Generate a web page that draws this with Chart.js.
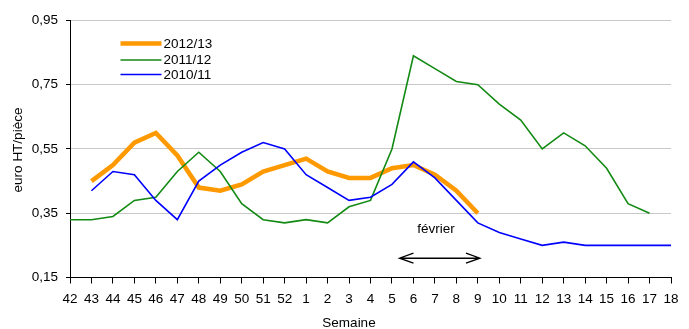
<!DOCTYPE html>
<html>
<head>
<meta charset="utf-8">
<script src="https://cdn.jsdelivr.net/npm/chart.js@4/dist/chart.umd.min.js"></script>
<style>
  html, body { margin: 0; padding: 0; background: #fff; }
  canvas { display: block; }
</style>
</head>
<body>
<canvas id="c" width="689" height="329"></canvas>
<script>
// Semaines de la campagne (octobre -> mai)
const weeks = ['42','43','44','45','46','47','48','49','50','51','52',
  '1','2','3','4','5','6','7','8','9','10','11','12','13','14','15','16','17','18'];

// Prix moyen, euro HT/pièce
const prices2012_13 = [null,0.45,0.50,0.57,0.60,0.53,0.43,0.42,0.44,0.48,0.50,
  0.52,0.48,0.46,0.46,0.49,0.50,0.47,0.42,0.35,null,null,null,null,null,null,null,null,null];
const prices2011_12 = [0.33,0.33,0.34,0.39,0.40,0.48,0.54,0.48,0.38,0.33,0.32,
  0.33,0.32,0.37,0.39,0.55,0.84,0.80,0.76,0.75,0.69,0.64,0.55,0.60,0.56,0.49,0.38,0.35,null];
const prices2010_11 = [null,0.42,0.48,0.47,0.39,0.33,0.45,0.50,0.54,0.57,0.55,
  0.47,0.43,0.39,0.40,0.44,0.51,0.46,0.39,0.32,0.29,0.27,0.25,0.26,0.25,0.25,0.25,0.25,0.25];

const yTicks = [0.15, 0.35, 0.55, 0.75, 0.95];

const FONT = '"Liberation Sans", Arial, sans-serif';
const ORANGE = '#FF9900', GREEN = '#138A13', BLUE = '#0000FF';

const series = [
  { label: '2012/13', data: prices2012_13, color: ORANGE, width: 4.5 },
  { label: '2011/12', data: prices2011_12, color: GREEN, width: 1.6 },
  { label: '2010/11', data: prices2010_11, color: BLUE, width: 1.6 }
];

// Légende, titres d'axes et flèche "février"
const decorations = {
  id: 'decorations',
  afterDraw(chart) {
    const ctx = chart.ctx;
    const xs = chart.scales.x, ys = chart.scales.y;
    ctx.save();
    ctx.fillStyle = '#000';
    ctx.font = '13.5px ' + FONT;
    ctx.textBaseline = 'middle';

    // légende
    const legendY = [43.5, 60, 74.5];
    series.forEach((s, i) => {
      ctx.strokeStyle = s.color;
      ctx.lineWidth = s.width;
      ctx.beginPath();
      ctx.moveTo(120.5, legendY[i]);
      ctx.lineTo(161.5, legendY[i]);
      ctx.stroke();
      ctx.textAlign = 'left';
      ctx.fillText(s.label, 163.5, legendY[i] + 0.5);
    });

    // titre de l'axe des ordonnées
    ctx.save();
    ctx.translate(18, 150);
    ctx.rotate(-Math.PI / 2);
    ctx.textAlign = 'center';
    ctx.fillText('euro HT/pièce', 0, 0);
    ctx.restore();

    // titre de l'axe des abscisses
    ctx.textAlign = 'center';
    ctx.fillText('Semaine', 349, 323);

    // période de février
    const x1 = xs.getPixelForValue(15.35), x2 = xs.getPixelForValue(19.1);
    const ya = ys.getPixelForValue(0.21);
    ctx.fillText('février', xs.getPixelForValue(17.05), ys.getPixelForValue(0.30));
    ctx.strokeStyle = '#000';
    ctx.lineWidth = 1.3;
    ctx.beginPath();
    ctx.moveTo(x1, ya); ctx.lineTo(x2, ya);
    ctx.moveTo(x1 + 14, ya - 5); ctx.lineTo(x1, ya); ctx.lineTo(x1 + 14, ya + 5);
    ctx.moveTo(x2 - 14, ya - 5); ctx.lineTo(x2, ya); ctx.lineTo(x2 - 14, ya + 5);
    ctx.stroke();
    ctx.restore();
  }
};

new Chart(document.getElementById('c'), {
  type: 'line',
  data: {
    labels: weeks,
    datasets: series.map((s, i) => ({
      label: s.label,
      data: s.data,
      borderColor: s.color,
      backgroundColor: s.color,
      borderWidth: s.width,
      pointRadius: 0,
      tension: 0,
      fill: false,
      spanGaps: false,
      order: series.length - i
    }))
  },
  options: {
    responsive: false,
    devicePixelRatio: 1,
    animation: false,
    layout: { padding: { top: 20.5, right: 18, left: 0, bottom: 0 } },
    plugins: { legend: { display: false }, tooltip: { enabled: false } },
    scales: {
      x: {
        type: 'category',
        offset: false,
        grid: { drawOnChartArea: false, color: '#000', tickLength: 6, tickWidth: 1 },
        border: { color: '#000', width: 1 },
        ticks: { color: '#000', font: { family: FONT, size: 13.5 }, maxRotation: 0, autoSkip: false, padding: 8 },
        afterFit(s) { s.height = 51.5; }
      },
      y: {
        min: 0.15,
        max: 0.95,
        afterBuildTicks(s) { s.ticks = yTicks.map(v => ({ value: v })); },
        grid: { color: '#C8C8C8', tickColor: '#000', tickLength: 4, lineWidth: 1 },
        border: { color: '#000', width: 1 },
        ticks: {
          color: '#000',
          font: { family: FONT, size: 13.5 },
          padding: 8,
          callback: v => v.toFixed(2).replace('.', ',')
        },
        afterFit(s) { s.width = 70; }
      }
    }
  },
  plugins: [decorations]
});
</script>
</body>
</html>
